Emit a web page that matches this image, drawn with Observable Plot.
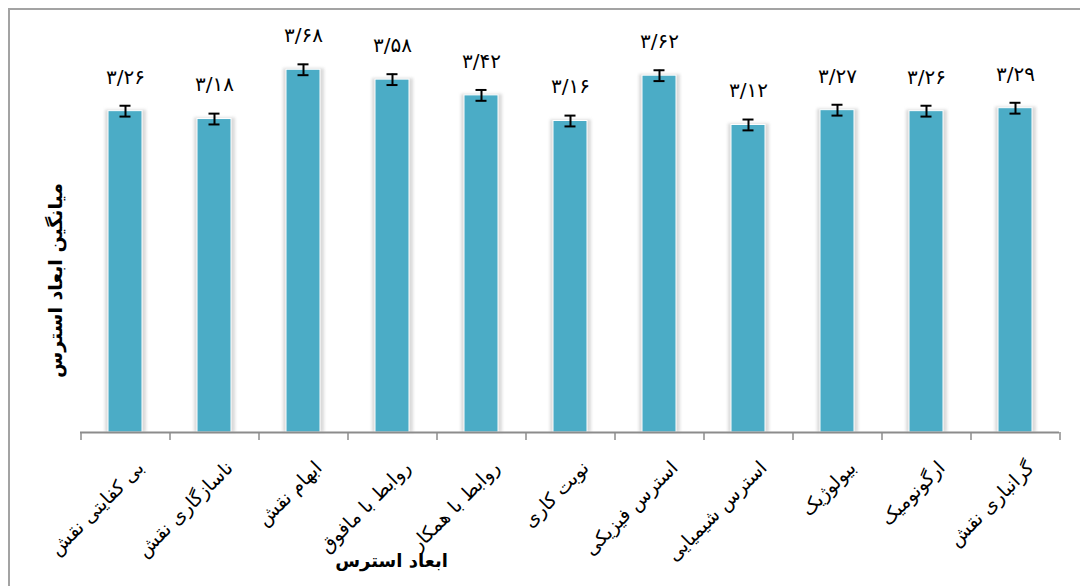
<!DOCTYPE html>
<html>
<head>
<meta charset="utf-8">
<script src="https://cdn.jsdelivr.net/npm/d3@7"></script>
<script src="https://cdn.jsdelivr.net/npm/@observablehq/plot@0.6"></script>
<style>
  body { margin: 0; background: #fff; overflow: hidden; }
  #wrap { position: relative; width: 1080px; height: 586px; overflow: hidden; }
  #frame { position: absolute; left: 8px; top: 8px; width: 1200px; height: 800px;
           border-top: 2px solid #a3a3a3; border-left: 2px solid #a3a3a3; pointer-events: none; }
  #chart { position: absolute; left: 0; top: 0; }
</style>
</head>
<body>
<div id="wrap"><div id="chart"></div><div id="frame"></div></div>
<script>
const categories = [
  "بی کفایتی نقش",
  "ناسازگاری نقش",
  "ابهام نقش",
  "روابط با مافوق",
  "روابط با همکار",
  "نوبت کاری",
  "استرس فیزیکی",
  "استرس شیمیایی",
  "بیولوژیک",
  "ارگونومیک",
  "گرانباری نقش"
];
const means = [3.26, 3.18, 3.68, 3.58, 3.42, 3.16, 3.62, 3.12, 3.27, 3.26, 3.29];
const errors = [0.055, 0.055, 0.055, 0.055, 0.055, 0.055, 0.055, 0.055, 0.055, 0.055, 0.055];
const valueLabels = ["۳/۲۶", "۳/۱۸", "۳/۶۸", "۳/۵۸", "۳/۴۲", "۳/۱۶", "۳/۶۲", "۳/۱۲", "۳/۲۷", "۳/۲۶", "۳/۲۹"];
const xTitle = "ابعاد استرس";
const yTitle = "میانگین ابعاد استرس";

const data = categories.map((c, i) => ({cat: c, mean: means[i], err: errors[i], label: valueLabels[i]}));

const W = 1080, H = 586, mL = 80, mR = 21, mT = 18, mB = 154;
const step = (W - mL - mR) / categories.length;
const axisGray = "#8c8c8c";

const chart = Plot.plot({
  width: W, height: H,
  marginTop: mT, marginBottom: mB, marginLeft: mL, marginRight: mR,
  style: {fontFamily: "'DejaVu Sans', sans-serif", background: "transparent", color: "#000"},
  x: {domain: categories, paddingInner: 0.62, paddingOuter: 0.31, axis: null},
  y: {domain: [0, 4.2], axis: null},
  marks: [
    // soft shadow behind bars
    Plot.barY(data, {x: "cat", y: "mean", fill: "#dadada", insetLeft: -3, insetRight: -4, insetTop: -1, imageFilter: "blur(1.5px)"}),
    Plot.barY(data, {x: "cat", y: "mean", fill: "#4BACC6", stroke: "#ffffff", strokeWidth: 1}),
    // axis line and boundary ticks
    Plot.ruleY([0], {stroke: axisGray, strokeWidth: 2}),
    Plot.ruleX(categories, {x: d => d, y1: 0, y2: 0, insetBottom: -8, dx: -step / 2, stroke: axisGray, strokeWidth: 1.5}),
    Plot.ruleX([categories[categories.length - 1]], {x: d => d, y1: 0, y2: 0, insetBottom: -8, dx: step / 2, stroke: axisGray, strokeWidth: 1.5}),
    // error bars
    Plot.ruleX(data, {x: "cat", y1: d => d.mean - d.err, y2: d => d.mean + d.err, stroke: "#000", strokeWidth: 2}),
    Plot.tickY(data, {x: "cat", y: d => d.mean + d.err, insetLeft: 11.5, insetRight: 11.5, stroke: "#000", strokeWidth: 2}),
    Plot.tickY(data, {x: "cat", y: d => d.mean - d.err, insetLeft: 11.5, insetRight: 11.5, stroke: "#000", strokeWidth: 2}),
    // value labels
    Plot.text(data, {x: "cat", y: "mean", text: "label", dy: -34, fontSize: 20, fill: "#000", lineAnchor: "middle"}),
    // category labels
    Plot.text(categories, {x: d => d, frameAnchor: "bottom", text: d => d, rotate: -45, textAnchor: "end", lineAnchor: "top", dx: 10, dy: 27, fontSize: 19, fill: "#000"}),
    // axis titles
    Plot.text([yTitle], {frameAnchor: "left", text: d => d, rotate: -90, textAnchor: "middle", dx: -25, dy: 55, fontSize: 19, fontWeight: "bold", fill: "#000"}),
    Plot.text([xTitle], {frameAnchor: "bottom", text: d => d, textAnchor: "middle", dx: -178.5, dy: 134, fontSize: 18, fontWeight: "bold", fill: "#000"})
  ]
});
document.getElementById("chart").appendChild(chart);
</script>
</body>
</html>
